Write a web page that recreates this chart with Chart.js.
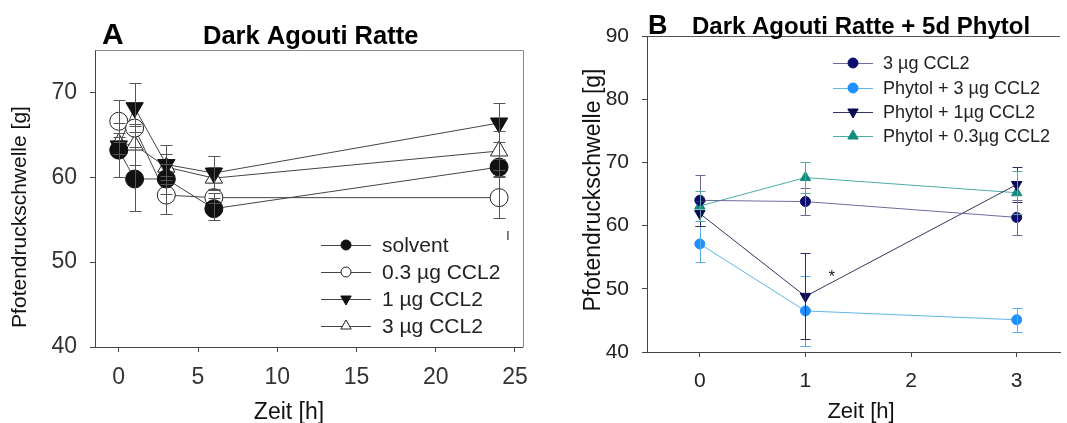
<!DOCTYPE html>
<html>
<head>
<meta charset="utf-8">
<script src="https://cdn.jsdelivr.net/npm/chart.js@4.4.1/dist/chart.umd.min.js"></script>
<style>
    html, body { margin: 0; padding: 0; background: #fff; }
    #wrap { position: relative; width: 1067px; height: 423px; overflow: hidden; }
    .panel { position: absolute; top: 0; height: 423px; }
    #panel-a { left: 0; width: 540px; }
    #panel-b { left: 540px; width: 527px; }
</style>
</head>
<body>
<div id="wrap">
    <div class="panel" id="panel-a"><canvas id="chart-a"></canvas></div>
    <div class="panel" id="panel-b"><canvas id="chart-b"></canvas></div>
</div>
<script>
const FONT = "'Liberation Sans', Arial, sans-serif";

// panel A - Dark Agouti Ratte
const hoursA = [0, 1, 3, 6, 24];
const namesA = ["solvent", "0.3 µg CCL2", "1 µg CCL2", "3 µg CCL2"];
const solventA = [63.2, 59.8, 59.8, 56.3, 61.2];
const solventErrA = [3.2, 3.8, 1.8, 1.3, 1.0];
const ccl03A = [66.6, 65.8, 57.9, 57.6, 57.6];
const ccl03ErrA = [2.5, 0.5, 2.2, 0.6, 2.4];
const ccl1A = [63.7, 68.2, 61.5, 60.5, 66.4];
const ccl1ErrA = [1.0, 2.9, 2.3, 2.0, 2.3];
const ccl3A = [64.0, 63.8, 61.2, 59.9, 63.1];
const ccl3ErrA = [1.2, 2.3, 1.5, 1.3, 2.3];
const xTicksA = [0, 5, 10, 15, 20, 25];
const yTicksA = [40, 50, 60, 70];

// panel B - Dark Agouti Ratte + 5d Phytol
const timesB = [0, 1, 3];
const namesB = ["3 µg CCL2", "Phytol + 3 µg CCL2", "Phytol + 1µg CCL2", "Phytol + 0.3µg CCL2"];
const cclB = [64.0, 63.8, 61.3];
const cclErrB = [4.0, 2.2, 2.8];
const phy3B = [57.1, 46.5, 45.1];
const phy3ErrB = [2.8, 5.5, 1.9];
const phy1B = [61.9, 48.8, 66.5];
const phy1ErrB = [2.0, 6.8, 2.8];
const phy03B = [63.1, 67.6, 65.2];
const phy03ErrB = [2.4, 2.5, 3.4];
const xTicksB = [0, 1, 2, 3];
const yTicksB = [40, 50, 60, 70, 80, 90];
const starB = { x: 1.25, y: 52.4 };

const toPoints = (xs, ys) => xs.map((x, i) => ({ x, y: ys[i] }));
const crisp = (v) => Math.round(v) + 0.5;

const errorBarPlugin = {
    id: "errorBars",
    afterDatasetsDraw(chart, args, opts) {
        const { ctx } = chart;
        const xs = chart.scales.x;
        const ys = chart.scales.y;
        chart.data.datasets.forEach((ds) => {
            if (!ds.errors) return;
            ctx.save();
            ctx.strokeStyle = ds.errorColor || opts.color;
            ctx.lineWidth = 1;
            ds.data.forEach((p, j) => {
                const e = ds.errors[j];
                const px = crisp(xs.getPixelForValue(p.x));
                const top = crisp(ys.getPixelForValue(p.y + e));
                const bot = crisp(ys.getPixelForValue(p.y - e));
                ctx.beginPath();
                ctx.moveTo(px, top);
                ctx.lineTo(px, bot);
                ctx.moveTo(px - opts.cap, top);
                ctx.lineTo(px + opts.cap, top);
                ctx.moveTo(px - opts.cap, bot);
                ctx.lineTo(px + opts.cap, bot);
                ctx.stroke();
            });
            ctx.restore();
        });
    },
};

function drawLegend(chart, cfg) {
    const { ctx } = chart;
    chart.data.datasets.forEach((ds, i) => {
        const y = cfg.rows[i];
        ctx.save();
        ctx.strokeStyle = ds.borderColor;
        ctx.lineWidth = 1;
        ctx.beginPath();
        ctx.moveTo(cfg.x1, crisp(y));
        ctx.lineTo(cfg.x2, crisp(y));
        ctx.stroke();
        ctx.fillStyle = ds.pointBackgroundColor;
        ctx.strokeStyle = ds.pointBorderColor;
        ctx.lineWidth = 1;
        Chart.helpers.drawPoint(ctx, {
            pointStyle: ds.pointStyle,
            rotation: ds.pointRotation || 0,
            radius: ds.pointStyle === "circle" ? cfg.r : cfg.r + 1,
            borderWidth: 1,
        }, (cfg.x1 + cfg.x2) / 2, y);
        ctx.fillStyle = cfg.color;
        ctx.font = `${cfg.size}px ${FONT}`;
        ctx.textAlign = "left";
        ctx.textBaseline = "middle";
        ctx.fillText(cfg.names[i], cfg.tx, y + 1);
        ctx.restore();
    });
}

function text(ctx, str, x, y, font, color, align, baseline, rot) {
    ctx.save();
    ctx.translate(x, y);
    if (rot) ctx.rotate(rot);
    ctx.font = font;
    ctx.fillStyle = color;
    ctx.textAlign = align;
    ctx.textBaseline = baseline;
    ctx.fillText(str, 0, 0);
    ctx.restore();
}

const decorA = {
    id: "decorA",
    beforeDatasetsDraw(chart) {
        const { ctx, chartArea: a } = chart;
        ctx.save();
        ctx.strokeStyle = "#8a8a8a";
        ctx.lineWidth = 1;
        ctx.beginPath();
        ctx.moveTo(crisp(a.left), crisp(a.top));
        ctx.lineTo(crisp(a.right), crisp(a.top));
        ctx.lineTo(crisp(a.right), crisp(a.bottom));
        ctx.stroke();
        ctx.restore();
    },
    afterDraw(chart) {
        const { ctx } = chart;
        text(ctx, "A", 102, 43.5, `bold 30px ${FONT}`, "#000", "left", "alphabetic");
        text(ctx, "Dark Agouti Ratte", 203, 43.5, `bold 25.5px ${FONT}`, "#000", "left", "alphabetic");
        text(ctx, "Pfotendruckschwelle [g]", 20, 217, `21px ${FONT}`, "#111", "center", "middle", -Math.PI / 2);
        text(ctx, "Zeit [h]", 289, 413, `23px ${FONT}`, "#111", "center", "middle");
        text(ctx, "I", 508, 237, `12px ${FONT}`, "#222", "center", "middle");
        drawLegend(chart, {
            x1: 321, x2: 371, tx: 382, r: 5, size: 21, color: "#222",
            rows: [245, 272, 299, 326], names: namesA,
        });
    },
};

const decorB = {
    id: "decorB",
    beforeDatasetsDraw(chart) {
        const { ctx, chartArea: a } = chart;
        ctx.save();
        ctx.strokeStyle = "#555";
        ctx.lineWidth = 1;
        ctx.beginPath();
        ctx.moveTo(crisp(a.left), crisp(a.top));
        ctx.lineTo(a.right, crisp(a.top));
        ctx.stroke();
        ctx.restore();
    },
    afterDraw(chart) {
        const { ctx } = chart;
        text(ctx, "B", 108, 33.5, `bold 27px ${FONT}`, "#000", "left", "alphabetic");
        text(ctx, "Dark Agouti Ratte + 5d Phytol", 152, 33.5, `bold 24px ${FONT}`, "#000", "left", "alphabetic");
        text(ctx, "Pfotendruckschwelle [g]", 54, 190, `23px ${FONT}`, "#111", "center", "middle", -Math.PI / 2);
        text(ctx, "Zeit [h]", 321, 412, `22px ${FONT}`, "#111", "center", "middle");
        const sx = chart.scales.x.getPixelForValue(starB.x);
        const sy = chart.scales.y.getPixelForValue(starB.y);
        text(ctx, "*", sx, sy + 4, `17px ${FONT}`, "#222", "center", "middle");
        drawLegend(chart, {
            x1: 293, x2: 333, tx: 343, r: 5, size: 18, color: "#222",
            rows: [63, 88, 112, 136], names: namesB,
        });
    },
};

function axis(min, max, tickValues, size, fitSize, pad, color) {
    return {
        type: "linear",
        min,
        max,
        afterBuildTicks(scale) {
            scale.ticks = tickValues.map((v) => ({ value: v }));
        },
        afterFit(scale) {
            if (scale.isHorizontal()) scale.height = fitSize;
            else scale.width = fitSize;
        },
        grid: { drawOnChartArea: false, drawTicks: true, tickLength: 5, tickColor: "#444" },
        border: { display: true, color: "#444", width: 1 },
        ticks: { font: { family: FONT, size }, color, padding: pad, maxRotation: 0, autoSkip: false },
    };
}

new Chart(document.getElementById("chart-a"), {
    type: "line",
    data: {
        datasets: [
            {
                data: toPoints(hoursA, solventA), errors: solventErrA,
                borderColor: "#444", borderWidth: 1,
                pointStyle: "circle", pointRadius: 9,
                pointBackgroundColor: "#111", pointBorderColor: "#111", pointBorderWidth: 1,
            },
            {
                data: toPoints(hoursA, ccl03A), errors: ccl03ErrA,
                borderColor: "#444", borderWidth: 1,
                pointStyle: "circle", pointRadius: 9,
                pointBackgroundColor: "#fff", pointBorderColor: "#222", pointBorderWidth: 1,
            },
            {
                data: toPoints(hoursA, ccl1A), errors: ccl1ErrA,
                borderColor: "#444", borderWidth: 1,
                pointStyle: "triangle", pointRotation: 180, pointRadius: 10,
                pointBackgroundColor: "#111", pointBorderColor: "#111", pointBorderWidth: 1,
            },
            {
                data: toPoints(hoursA, ccl3A), errors: ccl3ErrA,
                borderColor: "#444", borderWidth: 1,
                pointStyle: "triangle", pointRadius: 10,
                pointBackgroundColor: "#fff", pointBorderColor: "#222", pointBorderWidth: 1,
            },
        ],
    },
    options: {
        responsive: true,
        maintainAspectRatio: false,
        animation: false,
        layout: { padding: { left: 0, right: 15, top: 50, bottom: 0 } },
        plugins: {
            legend: { display: false },
            tooltip: { enabled: false },
            errorBars: { color: "#555", cap: 6 },
        },
        scales: {
            x: axis(-1.5, 25.5, xTicksA, 23, 76, 12, "#333"),
            y: axis(40, 75, yTicksA, 23, 95, 13, "#333"),
        },
    },
    plugins: [errorBarPlugin, decorA],
});

new Chart(document.getElementById("chart-b"), {
    type: "line",
    data: {
        datasets: [
            {
                data: toPoints(timesB, cclB), errors: cclErrB, errorColor: "#6a6a98",
                borderColor: "#6c6c9c", borderWidth: 1,
                pointStyle: "circle", pointRadius: 5,
                pointBackgroundColor: "#0c0c6e", pointBorderColor: "#0c0c6e", pointBorderWidth: 1,
            },
            {
                data: toPoints(timesB, phy3B), errors: phy3ErrB, errorColor: "#56aee6",
                borderColor: "#5cb6e8", borderWidth: 1,
                pointStyle: "circle", pointRadius: 5,
                pointBackgroundColor: "#1e8fff", pointBorderColor: "#1e8fff", pointBorderWidth: 1,
            },
            {
                data: toPoints(timesB, phy1B), errors: phy1ErrB, errorColor: "#2c2c60",
                borderColor: "#34345e", borderWidth: 1,
                pointStyle: "triangle", pointRotation: 180, pointRadius: 6,
                pointBackgroundColor: "#0a0a55", pointBorderColor: "#0a0a55", pointBorderWidth: 1,
            },
            {
                data: toPoints(timesB, phy03B), errors: phy03ErrB, errorColor: "#5aa8a0",
                borderColor: "#49aea3", borderWidth: 1,
                pointStyle: "triangle", pointRadius: 6,
                pointBackgroundColor: "#148a7e", pointBorderColor: "#148a7e", pointBorderWidth: 1,
            },
        ],
    },
    options: {
        responsive: true,
        maintainAspectRatio: false,
        animation: false,
        layout: { padding: { left: 0, right: 0, top: 36, bottom: 0 } },
        plugins: {
            legend: { display: false },
            tooltip: { enabled: false },
            errorBars: { color: "#555", cap: 5 },
        },
        scales: {
            x: axis(-0.5, 3.41, xTicksB, 21, 71, 12, "#222"),
            y: axis(40, 90, yTicksB, 21, 107, 13, "#222"),
        },
    },
    plugins: [errorBarPlugin, decorB],
});
</script>
</body>
</html>
